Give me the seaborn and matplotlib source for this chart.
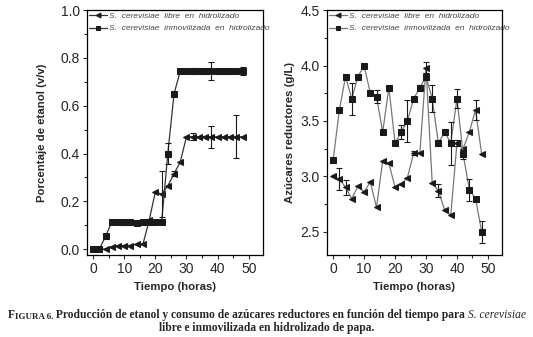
import numpy as np
import matplotlib
matplotlib.use("Agg")
import matplotlib.pyplot as plt
import seaborn as sns

# tiempo (horas)
tiempo = np.arange(0, 50, 2)

# etanol (v/v)
etanol_libre = [0, 0, 0, 0.01, 0.015, 0.015, 0.015, 0.02, 0.02, 0.12, 0.24, 0.23, 0.265,
                0.315, 0.365, 0.47, 0.47, 0.47, 0.47, 0.47, 0.47, 0.47, 0.47, 0.47, 0.47]
etanol_libre_err = [0, 0, 0, 0, 0, 0, 0, 0, 0, 0, 0, 0.095, 0, 0.01, 0, 0,
                    0.015, 0, 0, 0.045, 0, 0, 0, 0.09, 0]
etanol_inmov = [0, 0, 0.053, 0.114, 0.112, 0.112, 0.112, 0.11, 0.112, 0.112, 0.112, 0.112,
                0.40, 0.65, 0.745, 0.745, 0.745, 0.745, 0.745, 0.745, 0.745, 0.745, 0.745, 0.745, 0.745]
etanol_inmov_err = [0, 0, 0, 0, 0, 0.01, 0, 0, 0, 0, 0, 0, 0.045, 0, 0, 0,
                    0.012, 0, 0, 0.038, 0, 0, 0, 0, 0.015]

# azucares reductores (g/L)
azucar_libre = [3.00, 2.98, 2.90, 2.80, 2.91, 2.86, 2.95, 2.72, 3.14, 3.12, 2.90, 2.93, 2.99,
                3.21, 3.21, 3.98, 2.94, 2.87, 2.70, 2.65, 3.30, 3.25, 3.40, 3.60, 3.20]
azucar_libre_err = [0, 0.10, 0.065, 0, 0, 0, 0, 0, 0, 0, 0, 0, 0, 0.02, 0,
                    0.05, 0, 0.06, 0, 0, 0.03, 0, 0, 0.09, 0]
azucar_inmov = [3.15, 3.60, 3.90, 3.70, 3.90, 4.00, 3.75, 3.72, 3.40, 3.80, 3.30, 3.40, 3.50,
                3.70, 3.80, 3.90, 3.70, 3.30, 3.40, 3.30, 3.70, 3.20, 2.88, 2.80, 2.50]
azucar_inmov_err = [0, 0, 0, 0.145, 0, 0, 0, 0.055, 0, 0, 0, 0.065, 0.19, 0, 0.025,
                    0.03, 0.12, 0.025, 0, 0.195, 0.085, 0.04, 0.10, 0, 0.10]

lab_libre = "S.  cerevisiae  libre  en  hidrolizado"
lab_inmov = "S.  cerevisiae  inmovilizada  en  hidrolizado"

sns.set_style("ticks")
plt.rcParams['font.family'] = ['Liberation Sans', 'DejaVu Sans']
plt.rcParams['xtick.direction'] = 'out'
plt.rcParams['ytick.direction'] = 'out'

fig = plt.figure(figsize=(5.33, 3.37), dpi=100)
ax1 = fig.add_axes([0.163, 0.243, 0.330, 0.727])
ax2 = fig.add_axes([0.6135, 0.243, 0.328, 0.727])


def panel(ax, y_libre, e_libre, y_inmov, e_inmov, lcolor):
    sns.lineplot(x=tiempo, y=y_libre, ax=ax, color=lcolor, lw=0.9, marker='<',
                 markersize=5, markerfacecolor='#1a1a1a', markeredgecolor='#1a1a1a',
                 label=lab_libre)
    sns.lineplot(x=tiempo, y=y_inmov, ax=ax, color=lcolor, lw=0.9, marker='s',
                 markersize=4.5, markerfacecolor='#1a1a1a', markeredgecolor='#1a1a1a',
                 label=lab_inmov)
    for y, e in [(y_libre, e_libre), (y_inmov, e_inmov)]:
        y = np.array(y)
        e = np.array(e)
        m = e > 0
        ax.errorbar(tiempo[m], y[m], yerr=e[m], fmt='none', ecolor='#1a1a1a',
                    elinewidth=0.8, capsize=2, capthick=0.8)
    for s in ax.spines.values():
        s.set_visible(True)
        s.set_linewidth(0.9)
        s.set_color('black')
    ax.set_xlim(-2, 54.5)
    ax.set_xticks([0, 10, 20, 30, 40, 50])
    ax.set_xticks(np.arange(5, 55, 10), minor=True)
    ax.tick_params(axis='both', which='major', labelsize=10, length=3, width=0.8, pad=2)
    ax.tick_params(axis='both', which='minor', length=2, width=0.8)
    ax.set_xlabel("Tiempo (horas)", fontsize=8.2, fontweight='bold', labelpad=4)
    leg = ax.legend(loc='upper left', frameon=False, borderpad=0.2,
                    borderaxespad=0.0, handlelength=2.2, handletextpad=0.3,
                    labelspacing=0.6, markerscale=0.7,
                    prop={'style': 'italic', 'size': 6})
    for t in leg.get_texts():
        t.set_color('#444444')


panel(ax1, etanol_libre, etanol_libre_err, etanol_inmov, etanol_inmov_err, '#333333')
ax1.set_ylim(-0.025, 1.0)
ax1.set_yticks([0.0, 0.2, 0.4, 0.6, 0.8, 1.0])
ax1.set_yticks(np.arange(0.1, 1.0, 0.2), minor=True)
ax1.set_yticklabels(['0.0', '0.2', '0.4', '0.6', '0.8', '1.0'])
ax1.set_ylabel("Porcentaje de etanol (v/v)", fontsize=8.2, fontweight='bold', labelpad=10)

panel(ax2, azucar_libre, azucar_libre_err, azucar_inmov, azucar_inmov_err, '#777777')
ax2.set_ylim(2.29, 4.5)
ax2.set_yticks([2.5, 3.0, 3.5, 4.0, 4.5])
ax2.set_yticks(np.arange(2.75, 4.5, 0.5), minor=True)
ax2.set_yticklabels(['2.5', '3.0', '3.5', '4.0', '4.5'])
ax2.set_ylabel("Azúcares reductores (g/L)", fontsize=8.2, fontweight='bold', labelpad=4)

# pie de figura
serif = ['Liberation Serif', 'DejaVu Serif']
cs = 8.3
t1 = fig.text(8 / 533, 1 - 318 / 337, "F", fontsize=cs, fontweight='bold', family=serif,
              va='baseline', ha='left')
t2 = ax1.annotate("IGURA 6.", xy=(1, 0), xycoords=t1, fontsize=cs * 0.78,
                  fontweight='bold', family=serif, va='bottom', ha='left',
                  annotation_clip=False)
t3 = ax1.annotate(" Producción de etanol y consumo de azúcares reductores en función del tiempo para ",
                  xy=(1, 0), xycoords=t2, fontsize=cs, fontweight='bold', family=serif,
                  va='bottom', ha='left', annotation_clip=False)
t4 = ax1.annotate("S. cerevisiae", xy=(1, 0), xycoords=t3, fontsize=cs, style='italic',
                  family=serif, va='bottom', ha='left', annotation_clip=False)
fig.text(0.5, 1 - 331 / 337, "libre e inmovilizada en hidrolizado de papa.", fontsize=cs,
         fontweight='bold', family=serif, va='baseline', ha='center')

fig.savefig("out.png", dpi=100)
